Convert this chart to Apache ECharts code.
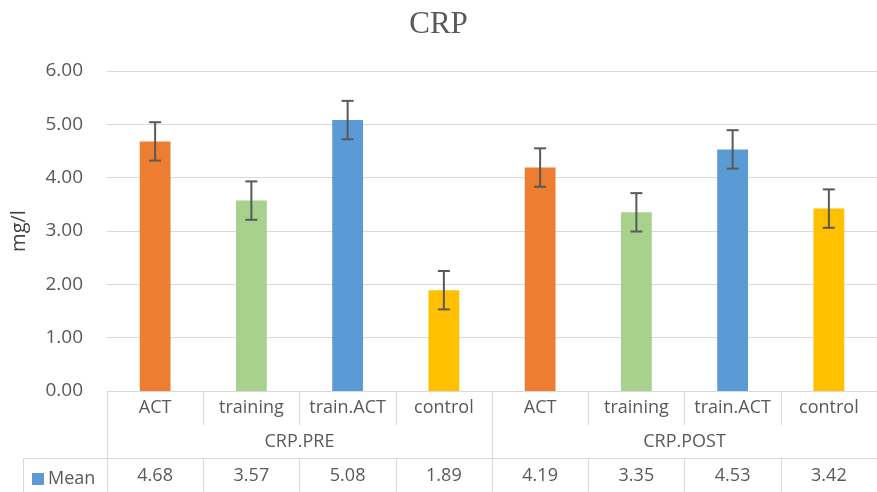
<!DOCTYPE html>
<html>
<head>
<meta charset="utf-8">
<script src="https://cdn.jsdelivr.net/npm/echarts@6/dist/echarts.min.js"></script>
<style>
html,body{margin:0;padding:0;background:#fff;}
#chart{width:877px;height:492px;}
</style>
</head>
<body>
<div id="chart"></div>
<script>
// data
const categories = ['ACT','training','train.ACT','control','ACT','training','train.ACT','control'];
const groups = ['CRP.PRE','CRP.POST'];
const means = [4.68,3.57,5.08,1.89,4.19,3.35,4.53,3.42];
const errors = [0.36,0.36,0.36,0.36,0.36,0.36,0.36,0.36];
const barColors = ['#ED7D31','#A9D18E','#5B9BD5','#FFC000','#ED7D31','#A9D18E','#5B9BD5','#FFC000'];

const fontName = 'Open Sans';
const textColor = '#595959';
const lineColor = '#d9d9d9';

let chart = echarts.init(document.getElementById('chart'));

let errData = means.map((m,i)=>[i, m-errors[i], m+errors[i]]);

let option = {
    animation:false,
    title:{
        text:'CRP',
        left:'center',
        top:4,
        textStyle:{
            fontFamily:'Liberation Serif',
            fontWeight:'normal',
            fontSize:31,
            color:textColor
        }
    },
    legend:{
        data:['Mean'],
        left:32,
        top:470,
        padding:0,
        icon:'rect',
        itemWidth:12,
        itemHeight:12,
        itemGap:5,
        textStyle:{
            fontFamily:fontName,
            fontSize:18,
            color:textColor,
            padding:[0,0,0,-1]
        }
    },
    grid:{
        left:107,
        right:-5,
        top:71,
        bottom:101
    },
    xAxis:[{
        type:'category',
        data:categories,
        position:'bottom',
        axisLine:{show:true, lineStyle:{color:lineColor, width:1}},
        axisTick:{show:true, length:34, interval:0, lineStyle:{color:lineColor}},
        axisLabel:{
            interval:0,
            margin:8,
            fontFamily:fontName,
            fontSize:18,
            color:textColor
        }
    },{
        type:'category',
        data:groups,
        position:'bottom',
        axisLine:{show:false},
        axisTick:{show:true, length:67, interval:0, lineStyle:{color:lineColor}},
        axisLabel:{
            interval:0,
            margin:42,
            fontFamily:fontName,
            fontSize:18,
            color:textColor
        }
    },{
        type:'category',
        data:means.map(v=>v.toFixed(2)),
        position:'bottom',
        offset:67,
        axisLine:{show:true, lineStyle:{color:lineColor, width:1}},
        axisTick:{show:true, length:40, interval:0, lineStyle:{color:lineColor}},
        axisLabel:{
            interval:0,
            margin:9,
            fontFamily:fontName,
            fontSize:18,
            color:textColor
        }
    }],
    yAxis:{
        type:'value',
        min:0,
        max:6,
        interval:1,
        name:'mg/l',
        nameLocation:'middle',
        nameGap:78,
        nameTextStyle:{
            fontFamily:fontName,
            fontSize:20,
            color:'#404040'
        },
        axisLine:{show:false},
        axisTick:{show:false},
        axisLabel:{
            margin:24,
            fontFamily:fontName,
            fontSize:19,
            color:textColor,
            formatter:v=>v.toFixed(2)
        },
        splitLine:{lineStyle:{color:lineColor, width:1}}
    },
    graphic:[{
        type:'line',
        shape:{x1:23, y1:458.5, x2:107, y2:458.5},
        style:{stroke:lineColor, lineWidth:1}
    },{
        type:'line',
        shape:{x1:23.5, y1:458, x2:23.5, y2:492},
        style:{stroke:lineColor, lineWidth:1}
    }],
    series:[{
        name:'Mean',
        type:'bar',
        xAxisIndex:0,
        barWidth:'32%',
        itemStyle:{color:'#5B9BD5'},
        data:means.map((v,i)=>({value:v, itemStyle:{color:barColors[i]}}))
    },{
        name:'err',
        type:'custom',
        xAxisIndex:0,
        data:errData,
        z:10,
        renderItem(params, api){
            let x = api.value(0);
            let lo = api.coord([x, api.value(1)]);
            let hi = api.coord([x, api.value(2)]);
            let cap = 6;
            let st = {stroke:'#595959', lineWidth:2};
            return {
                type:'group',
                children:[
                    {type:'line', shape:{x1:lo[0], y1:lo[1], x2:hi[0], y2:hi[1]}, style:st},
                    {type:'line', shape:{x1:hi[0]-cap, y1:hi[1], x2:hi[0]+cap, y2:hi[1]}, style:st},
                    {type:'line', shape:{x1:lo[0]-cap, y1:lo[1], x2:lo[0]+cap, y2:lo[1]}, style:st}
                ]
            };
        }
    }]
};

chart.setOption(option);
</script>
</body>
</html>
